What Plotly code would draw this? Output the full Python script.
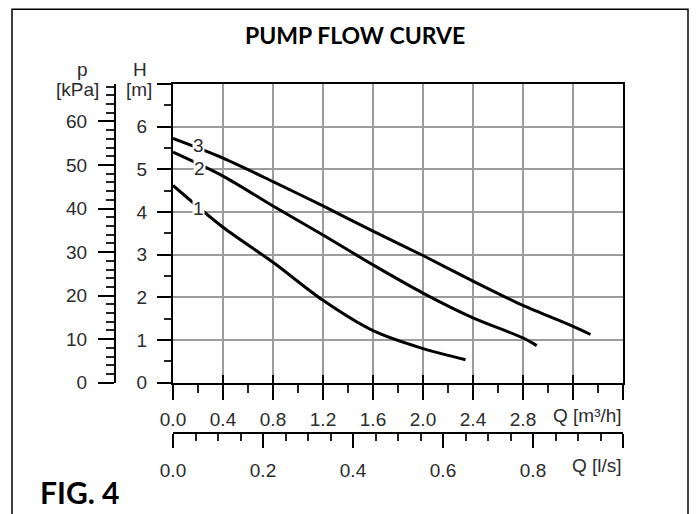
import plotly.graph_objects as go

# ---- data ----
q1 = [0.0, 0.4, 0.8, 1.2, 1.6, 2.0, 2.34]
h1 = [4.62, 3.64, 2.82, 1.93, 1.22, 0.80, 0.54]
q2 = [0.0, 0.4, 0.8, 1.2, 1.6, 2.0, 2.4, 2.8, 2.91]
h2 = [5.40, 4.84, 4.14, 3.46, 2.76, 2.10, 1.52, 1.05, 0.87]
q3 = [0.0, 0.4, 0.8, 1.2, 1.6, 2.0, 2.4, 2.8, 3.2, 3.34]
h3 = [5.72, 5.26, 4.71, 4.14, 3.55, 2.98, 2.38, 1.81, 1.32, 1.13]

curve_names = ["1", "2", "3"]
label_q = [0.20, 0.21, 0.20]
label_h = [4.09, 5.02, 5.56]

q_m3h_ticks = [0.0, 0.4, 0.8, 1.2, 1.6, 2.0, 2.4, 2.8, 3.2, 3.6]
q_m3h_text = ["0.0", "0.4", "0.8", "1.2", "1.6", "2.0", "2.4", "2.8", "", ""]
q_m3h_minor = [0.2, 0.6, 1.0, 1.4, 1.8, 2.2, 2.6, 3.0, 3.4]
q_ls_ticks = [0.0, 0.2, 0.4, 0.6, 0.8, 1.0]
q_ls_text = ["0.0", "0.2", "0.4", "0.6", "0.8", ""]
q_ls_minor = [0.05, 0.1, 0.15, 0.25, 0.3, 0.35, 0.45, 0.5, 0.55, 0.65, 0.7, 0.75, 0.85, 0.9, 0.95]
h_ticks = [0, 1, 2, 3, 4, 5, 6, 7]
h_text = ["0", "1", "2", "3", "4", "5", "6", ""]
h_minor = [0.5, 1.5, 2.5, 3.5, 4.5, 5.5, 6.5]
p_ticks = [0, 10, 20, 30, 40, 50, 60]
p_minor = [2, 4, 6, 8, 12, 14, 16, 18, 22, 24, 26, 28, 32, 34, 36, 38,
           42, 44, 46, 48, 52, 54, 56, 58, 62, 64, 66, 68]

G = 9.80665          # kPa per m of water
M3H_PER_LS = 3.6
H_MAX = 7
Q_MAX = 3.6

# ---- layout geometry (screen pixels of the reference) ----
OFF = 8                       # page body margin
W, HH = 699 - OFF, 514 - OFF  # figure size
ML, MR, MT, MB = 50, 40, 50, 20
PW, PH = W - ML - MR, HH - MT - MB


def px(x):
    return (x - OFF - ML) / PW


def py(y):
    return (HH - MB - (y - OFF)) / PH


TICKFONT = dict(family="Liberation Sans, Arial, sans-serif", size=19, color="#2b2b2b")
BOLD = "Lato, Carlito, Calibri, sans-serif"

fig = go.Figure()

for q, h in [(q1, h1), (q2, h2), (q3, h3)]:
    fig.add_trace(go.Scatter(x=q, y=h, mode="lines", xaxis="x", yaxis="y",
                             line=dict(color="black", width=3, shape="spline", smoothing=0.8),
                             hoverinfo="skip", showlegend=False))

# invisible companions so the secondary axes get drawn
fig.add_trace(go.Scatter(x=[v / M3H_PER_LS for v in q3], y=h3, xaxis="x2", yaxis="y",
                         mode="lines", line=dict(width=0), opacity=0, hoverinfo="skip", showlegend=False))
fig.add_trace(go.Scatter(x=q3, y=[v * G for v in h3], xaxis="x", yaxis="y2",
                         mode="lines", line=dict(width=0), opacity=0, hoverinfo="skip", showlegend=False))
fig.add_trace(go.Scatter(x=q3, y=h3, xaxis="x3", yaxis="y",
                         mode="lines", line=dict(width=0), opacity=0, hoverinfo="skip", showlegend=False))

xdom = [px(173), px(623)]
ydom = [py(385), py(84)]

fig.update_layout(
    width=W, height=HH,
    margin=dict(l=ML, r=MR, t=MT, b=MB),
    paper_bgcolor="white", plot_bgcolor="white",
    showlegend=False,
    xaxis=dict(domain=xdom, range=[0, Q_MAX], anchor="y",
               tickmode="array", tickvals=q_m3h_ticks, ticktext=q_m3h_text,
               ticks="outside", ticklen=15, tickwidth=2, tickcolor="black",
               minor=dict(tickmode="array", tickvals=q_m3h_minor, ticks="outside",
                          ticklen=8, tickwidth=1.5, tickcolor="#222", showgrid=False),
               showline=True, linecolor="black", linewidth=2, mirror=True,
               showgrid=True, gridcolor="#9c9c9c", gridwidth=1.5,
               zeroline=False, tickfont=TICKFONT, ticklabelstandoff=3,
               fixedrange=True),
    xaxis3=dict(overlaying="x", anchor="y", range=[0, Q_MAX],
                tickmode="array", tickvals=q_m3h_ticks, ticks="inside", ticklen=8,
                tickwidth=2, tickcolor="black", showticklabels=False,
                showgrid=False, showline=False, zeroline=False, fixedrange=True),
    xaxis2=dict(domain=xdom, range=[0, Q_MAX / M3H_PER_LS], anchor="free",
                position=py(436), overlaying="x", side="bottom",
                tickmode="array", tickvals=q_ls_ticks, ticktext=q_ls_text,
                ticks="outside", ticklen=14, tickwidth=2, tickcolor="black",
                minor=dict(tickmode="array", tickvals=q_ls_minor, ticks="outside",
                           ticklen=7, tickwidth=1.5, tickcolor="#222", showgrid=False),
                showline=True, linecolor="black", linewidth=2,
                showgrid=False, zeroline=False, tickfont=TICKFONT,
                ticklabelstandoff=6, fixedrange=True),
    yaxis=dict(domain=ydom, range=[0, H_MAX], anchor="x",
               tickmode="array", tickvals=h_ticks, ticktext=h_text,
               ticks="outside", ticklen=14, tickwidth=2, tickcolor="black",
               minor=dict(tickmode="array", tickvals=h_minor, ticks="outside",
                          ticklen=7, tickwidth=1.5, tickcolor="#222", showgrid=False),
               showline=True, linecolor="black", linewidth=2, mirror=True,
               showgrid=True, gridcolor="#9c9c9c", gridwidth=1.5,
               zeroline=False, tickfont=TICKFONT, ticklabelstandoff=6,
               fixedrange=True),
    yaxis2=dict(domain=ydom, range=[0, H_MAX * G], anchor="free", position=px(115),
                overlaying="y", side="left",
                tickmode="array", tickvals=p_ticks,
                ticks="outside", ticklen=16, tickwidth=2, tickcolor="black",
                minor=dict(tickmode="array", tickvals=p_minor, ticks="outside",
                           ticklen=8, tickwidth=1.5, tickcolor="#222", showgrid=False),
                showline=True, linecolor="black", linewidth=2,
                showgrid=False, zeroline=False, tickfont=TICKFONT,
                ticklabelstandoff=7, fixedrange=True),
)

annotations = []
for name, lq, lh in zip(curve_names, label_q, label_h):
    annotations.append(dict(x=lq, y=lh, xref="x", yref="y", text=name, showarrow=False,
                            font=TICKFONT, bgcolor="white", borderpad=0))

axis_titles = [("p", 82, 70), ("[kPa]", 77, 90), ("H", 140, 70), ("[m]", 139, 90)]
for txt, x, y in axis_titles:
    annotations.append(dict(x=px(x), y=py(y), xref="paper", yref="paper", text=txt,
                            showarrow=False, font=TICKFONT, xanchor="center", yanchor="middle"))

annotations.append(dict(x=px(624), y=py(418), xref="paper", yref="paper", text="Q [m³/h]",
                        showarrow=False, font=TICKFONT, xanchor="right", yanchor="middle"))
annotations.append(dict(x=px(624), y=py(468), xref="paper", yref="paper", text="Q [l/s]",
                        showarrow=False, font=TICKFONT, xanchor="right", yanchor="middle"))
annotations.append(dict(x=px(355), y=py(35), xref="paper", yref="paper",
                        text="<b>PUMP FLOW CURVE</b>", showarrow=False,
                        font=dict(family=BOLD, size=23, color="black"),
                        xanchor="center", yanchor="middle"))
annotations.append(dict(x=px(38), y=py(495), xref="paper", yref="paper",
                        text="<b>FIG. 4</b>", showarrow=False,
                        font=dict(family=BOLD, size=30, color="black"),
                        xanchor="left", yanchor="middle"))
fig.update_layout(annotations=annotations)

fig.add_shape(type="rect", xref="paper", yref="paper",
              x0=px(12), x1=px(688), y0=py(530), y1=py(OFF + 0.8),
              line=dict(color="black", width=1.5), fillcolor="rgba(0,0,0,0)", layer="below")

fig.write_html("out.html")
